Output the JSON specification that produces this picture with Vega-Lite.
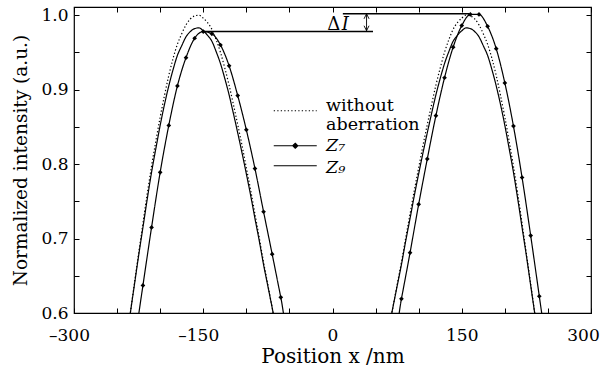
{
  "$schema": "https://vega.github.io/schema/vega-lite/v6.json",
  "width": 517,
  "height": 306,
  "autosize": {"type": "none"},
  "padding": {"left": 74, "top": 7, "right": 15, "bottom": 60},
  "background": "white",
  "config": {
    "view": {"stroke": "black", "strokeWidth": 1.2},
    "font": "'DejaVu Serif', 'Liberation Serif', serif",
    "axis": {"grid": false, "domain": false, "tickColor": "black", "tickWidth": 1, "labelColor": "black", "titleColor": "black", "labelFont": "'DejaVu Serif', 'Liberation Serif', serif", "titleFont": "'DejaVu Serif', 'Liberation Serif', serif", "labelFontSize": 17, "titleFontSize": 19, "titleFontWeight": "normal"}
  },
  "datasets": {
    "curves": [
      {"series": "without aberration", "x": -240, "y": 0.554},
      {"series": "without aberration", "x": -235, "y": 0.597},
      {"series": "without aberration", "x": -230, "y": 0.639},
      {"series": "without aberration", "x": -225, "y": 0.680},
      {"series": "without aberration", "x": -220, "y": 0.720},
      {"series": "without aberration", "x": -215, "y": 0.760},
      {"series": "without aberration", "x": -210, "y": 0.797},
      {"series": "without aberration", "x": -205, "y": 0.831},
      {"series": "without aberration", "x": -200, "y": 0.863},
      {"series": "without aberration", "x": -195, "y": 0.892},
      {"series": "without aberration", "x": -190, "y": 0.919},
      {"series": "without aberration", "x": -185, "y": 0.942},
      {"series": "without aberration", "x": -180, "y": 0.961},
      {"series": "without aberration", "x": -175, "y": 0.975},
      {"series": "without aberration", "x": -170, "y": 0.987},
      {"series": "without aberration", "x": -165, "y": 0.995},
      {"series": "without aberration", "x": -160, "y": 0.999},
      {"series": "without aberration", "x": -155, "y": 1.000},
      {"series": "without aberration", "x": -150, "y": 0.996},
      {"series": "without aberration", "x": -145, "y": 0.990},
      {"series": "without aberration", "x": -140, "y": 0.981},
      {"series": "without aberration", "x": -135, "y": 0.967},
      {"series": "without aberration", "x": -130, "y": 0.950},
      {"series": "without aberration", "x": -125, "y": 0.929},
      {"series": "without aberration", "x": -120, "y": 0.906},
      {"series": "without aberration", "x": -115, "y": 0.880},
      {"series": "without aberration", "x": -110, "y": 0.853},
      {"series": "without aberration", "x": -105, "y": 0.825},
      {"series": "without aberration", "x": -100, "y": 0.795},
      {"series": "without aberration", "x": -95, "y": 0.765},
      {"series": "without aberration", "x": -90, "y": 0.733},
      {"series": "without aberration", "x": -85, "y": 0.701},
      {"series": "without aberration", "x": -80, "y": 0.668},
      {"series": "without aberration", "x": -75, "y": 0.638},
      {"series": "without aberration", "x": -70, "y": 0.607},
      {"series": "without aberration", "x": -65, "y": 0.576},
      {"series": "without aberration", "x": -60, "y": 0.545},
      {"series": "without aberration", "x": 60, "y": 0.545},
      {"series": "without aberration", "x": 65, "y": 0.576},
      {"series": "without aberration", "x": 70, "y": 0.607},
      {"series": "without aberration", "x": 75, "y": 0.638},
      {"series": "without aberration", "x": 80, "y": 0.668},
      {"series": "without aberration", "x": 85, "y": 0.701},
      {"series": "without aberration", "x": 90, "y": 0.733},
      {"series": "without aberration", "x": 95, "y": 0.765},
      {"series": "without aberration", "x": 100, "y": 0.795},
      {"series": "without aberration", "x": 105, "y": 0.825},
      {"series": "without aberration", "x": 110, "y": 0.853},
      {"series": "without aberration", "x": 115, "y": 0.880},
      {"series": "without aberration", "x": 120, "y": 0.906},
      {"series": "without aberration", "x": 125, "y": 0.929},
      {"series": "without aberration", "x": 130, "y": 0.950},
      {"series": "without aberration", "x": 135, "y": 0.967},
      {"series": "without aberration", "x": 140, "y": 0.981},
      {"series": "without aberration", "x": 145, "y": 0.990},
      {"series": "without aberration", "x": 150, "y": 0.996},
      {"series": "without aberration", "x": 155, "y": 1.000},
      {"series": "without aberration", "x": 160, "y": 0.999},
      {"series": "without aberration", "x": 165, "y": 0.995},
      {"series": "without aberration", "x": 170, "y": 0.987},
      {"series": "without aberration", "x": 175, "y": 0.975},
      {"series": "without aberration", "x": 180, "y": 0.961},
      {"series": "without aberration", "x": 185, "y": 0.942},
      {"series": "without aberration", "x": 190, "y": 0.919},
      {"series": "without aberration", "x": 195, "y": 0.892},
      {"series": "without aberration", "x": 200, "y": 0.863},
      {"series": "without aberration", "x": 205, "y": 0.831},
      {"series": "without aberration", "x": 210, "y": 0.797},
      {"series": "without aberration", "x": 215, "y": 0.760},
      {"series": "without aberration", "x": 220, "y": 0.720},
      {"series": "without aberration", "x": 225, "y": 0.680},
      {"series": "without aberration", "x": 230, "y": 0.639},
      {"series": "without aberration", "x": 235, "y": 0.597},
      {"series": "without aberration", "x": 240, "y": 0.554},
      {"series": "Z9", "x": -240, "y": 0.556},
      {"series": "Z9", "x": -235, "y": 0.597},
      {"series": "Z9", "x": -230, "y": 0.637},
      {"series": "Z9", "x": -225, "y": 0.677},
      {"series": "Z9", "x": -220, "y": 0.715},
      {"series": "Z9", "x": -215, "y": 0.753},
      {"series": "Z9", "x": -210, "y": 0.789},
      {"series": "Z9", "x": -205, "y": 0.821},
      {"series": "Z9", "x": -200, "y": 0.852},
      {"series": "Z9", "x": -195, "y": 0.880},
      {"series": "Z9", "x": -190, "y": 0.905},
      {"series": "Z9", "x": -185, "y": 0.927},
      {"series": "Z9", "x": -180, "y": 0.946},
      {"series": "Z9", "x": -175, "y": 0.959},
      {"series": "Z9", "x": -170, "y": 0.971},
      {"series": "Z9", "x": -165, "y": 0.978},
      {"series": "Z9", "x": -160, "y": 0.982},
      {"series": "Z9", "x": -155, "y": 0.983},
      {"series": "Z9", "x": -150, "y": 0.979},
      {"series": "Z9", "x": -145, "y": 0.973},
      {"series": "Z9", "x": -140, "y": 0.965},
      {"series": "Z9", "x": -135, "y": 0.951},
      {"series": "Z9", "x": -130, "y": 0.935},
      {"series": "Z9", "x": -125, "y": 0.915},
      {"series": "Z9", "x": -120, "y": 0.893},
      {"series": "Z9", "x": -115, "y": 0.868},
      {"series": "Z9", "x": -110, "y": 0.842},
      {"series": "Z9", "x": -105, "y": 0.815},
      {"series": "Z9", "x": -100, "y": 0.787},
      {"series": "Z9", "x": -95, "y": 0.758},
      {"series": "Z9", "x": -90, "y": 0.727},
      {"series": "Z9", "x": -85, "y": 0.697},
      {"series": "Z9", "x": -80, "y": 0.665},
      {"series": "Z9", "x": -75, "y": 0.636},
      {"series": "Z9", "x": -70, "y": 0.607},
      {"series": "Z9", "x": -65, "y": 0.577},
      {"series": "Z9", "x": -60, "y": 0.547},
      {"series": "Z9", "x": 60, "y": 0.547},
      {"series": "Z9", "x": 65, "y": 0.577},
      {"series": "Z9", "x": 70, "y": 0.607},
      {"series": "Z9", "x": 75, "y": 0.636},
      {"series": "Z9", "x": 80, "y": 0.665},
      {"series": "Z9", "x": 85, "y": 0.697},
      {"series": "Z9", "x": 90, "y": 0.727},
      {"series": "Z9", "x": 95, "y": 0.758},
      {"series": "Z9", "x": 100, "y": 0.787},
      {"series": "Z9", "x": 105, "y": 0.815},
      {"series": "Z9", "x": 110, "y": 0.842},
      {"series": "Z9", "x": 115, "y": 0.868},
      {"series": "Z9", "x": 120, "y": 0.893},
      {"series": "Z9", "x": 125, "y": 0.915},
      {"series": "Z9", "x": 130, "y": 0.935},
      {"series": "Z9", "x": 135, "y": 0.951},
      {"series": "Z9", "x": 140, "y": 0.965},
      {"series": "Z9", "x": 145, "y": 0.973},
      {"series": "Z9", "x": 150, "y": 0.979},
      {"series": "Z9", "x": 155, "y": 0.983},
      {"series": "Z9", "x": 160, "y": 0.982},
      {"series": "Z9", "x": 165, "y": 0.978},
      {"series": "Z9", "x": 170, "y": 0.971},
      {"series": "Z9", "x": 175, "y": 0.959},
      {"series": "Z9", "x": 180, "y": 0.946},
      {"series": "Z9", "x": 185, "y": 0.927},
      {"series": "Z9", "x": 190, "y": 0.905},
      {"series": "Z9", "x": 195, "y": 0.880},
      {"series": "Z9", "x": 200, "y": 0.852},
      {"series": "Z9", "x": 205, "y": 0.821},
      {"series": "Z9", "x": 210, "y": 0.789},
      {"series": "Z9", "x": 215, "y": 0.753},
      {"series": "Z9", "x": 220, "y": 0.715},
      {"series": "Z9", "x": 225, "y": 0.677},
      {"series": "Z9", "x": 230, "y": 0.637},
      {"series": "Z9", "x": 235, "y": 0.597},
      {"series": "Z9", "x": 240, "y": 0.556},
      {"series": "Z7", "x": -230, "y": 0.558},
      {"series": "Z7", "x": -220, "y": 0.637},
      {"series": "Z7", "x": -210, "y": 0.715},
      {"series": "Z7", "x": -200, "y": 0.789},
      {"series": "Z7", "x": -190, "y": 0.852},
      {"series": "Z7", "x": -180, "y": 0.905},
      {"series": "Z7", "x": -170, "y": 0.943},
      {"series": "Z7", "x": -160, "y": 0.969},
      {"series": "Z7", "x": -150, "y": 0.978},
      {"series": "Z7", "x": -140, "y": 0.975},
      {"series": "Z7", "x": -130, "y": 0.960},
      {"series": "Z7", "x": -120, "y": 0.932},
      {"series": "Z7", "x": -110, "y": 0.892},
      {"series": "Z7", "x": -100, "y": 0.846},
      {"series": "Z7", "x": -90, "y": 0.794},
      {"series": "Z7", "x": -80, "y": 0.736},
      {"series": "Z7", "x": -70, "y": 0.679},
      {"series": "Z7", "x": -60, "y": 0.621},
      {"series": "Z7", "x": -50, "y": 0.563},
      {"series": "Z7", "x": 70, "y": 0.557},
      {"series": "Z7", "x": 80, "y": 0.619},
      {"series": "Z7", "x": 90, "y": 0.681},
      {"series": "Z7", "x": 100, "y": 0.746},
      {"series": "Z7", "x": 110, "y": 0.807},
      {"series": "Z7", "x": 120, "y": 0.865},
      {"series": "Z7", "x": 130, "y": 0.916},
      {"series": "Z7", "x": 140, "y": 0.957},
      {"series": "Z7", "x": 150, "y": 0.986},
      {"series": "Z7", "x": 160, "y": 1.001},
      {"series": "Z7", "x": 170, "y": 1.001},
      {"series": "Z7", "x": 180, "y": 0.985},
      {"series": "Z7", "x": 190, "y": 0.955},
      {"series": "Z7", "x": 200, "y": 0.909},
      {"series": "Z7", "x": 210, "y": 0.851},
      {"series": "Z7", "x": 220, "y": 0.782},
      {"series": "Z7", "x": 230, "y": 0.704},
      {"series": "Z7", "x": 240, "y": 0.6225},
      {"series": "Z7", "x": 250, "y": 0.541}
    ]
  },
  "layer": [
    {
      "data": {"name": "curves"},
      "mark": {"type": "line", "color": "black", "strokeWidth": 1.2, "clip": true, "interpolate": "monotone"},
      "encoding": {
        "x": {
          "field": "x", "type": "quantitative",
          "scale": {"domain": [-300, 300], "nice": false, "zero": false},
          "axis": {
            "orient": "bottom",
            "values": [-300, -250, -200, -150, -100, -50, 0, 50, 100, 150, 200, 250, 300],
            "tickSize": -5, "labelPadding": 19, "labelFlush": false, "labelOverlap": false,
            "labelExpr": "round(datum.value) % 150 === 0 ? (datum.value < 0 ? '–' + abs(datum.value) : '' + datum.value) : ''",
            "labelOffset": {"condition": [{"test": "datum.value < 0", "value": -5}, {"test": "datum.value > 250", "value": -8}], "value": 0},
            "title": "Position x /nm", "titlePadding": 3, "titleFontSize": 20
          }
        },
        "y": {
          "field": "y", "type": "quantitative",
          "scale": {"domain": [0.6, 1.011], "nice": false, "zero": false},
          "axis": {
            "orient": "left",
            "values": [0.6, 0.65, 0.7, 0.75, 0.8, 0.85, 0.9, 0.95, 1.0],
            "tickSize": -5, "labelPadding": 11, "labelFlush": false, "labelOverlap": false,
            "labelExpr": "round(datum.value * 100) % 10 === 0 ? format(datum.value, '.1f') : ''",
            "title": "Normalized intensity (a.u.)", "titlePadding": 10, "titleFontSize": 18.5
          }
        },
        "strokeDash": {
          "field": "series", "type": "nominal",
          "scale": {"domain": ["without aberration", "Z7", "Z9"], "range": [[1.3, 2.2], [1, 0], [1, 0]]},
          "legend": {
            "orient": "none", "legendX": 212.5, "legendY": 95, "padding": 0,
            "title": null,
            "symbolType": "M-4.3,0H4.3",
            "symbolSize": 100,
            "symbolStrokeWidth": 1.2,
            "symbolStrokeColor": "black",
            "symbolFillColor": "black",
            "labelFont": "'DejaVu Serif', 'Liberation Serif', serif", "labelFontSize": 17.5, "labelColor": "black",
            "labelOffset": 22,
            "labelExpr": "datum.value === 'without aberration' ? ['without', 'aberration'] : (datum.value === 'Z7' ? 'Z₇' : 'Z₉')",
            "encode": {
              "symbols": {"update": {"shape": {"signal": "datum.value === 'Z7' ? 'M-4.3,0H4.3M0,-0.5L0.5,0L0,0.5L-0.5,0Z' : 'M-4.3,0H4.3'"}, "fill": {"value": "black"}, "stroke": {"value": "black"}}},
              "labels": {"update": {"fontStyle": {"signal": "datum.value === 'without aberration' ? 'normal' : 'italic'"}, "lineHeight": {"value": 19}, "dy": {"signal": "datum.value === 'without aberration' ? -5 : (datum.value === 'Z9' ? 2 : 0)"}}}
            }
          }
        }
      }
    },
    {
      "data": {"name": "curves"},
      "transform": [{"filter": "datum.series === 'Z7'"}],
      "mark": {"type": "point", "shape": "diamond", "size": 22, "filled": true, "color": "black", "opacity": 1, "clip": true},
      "encoding": {
        "x": {"field": "x", "type": "quantitative", "axis": null},
        "y": {"field": "y", "type": "quantitative", "axis": null}
      }
    },
    {
      "data": {"values": [{"x": -151, "x2": 47, "y": 0.978}, {"x": 12, "x2": 159, "y": 1.002}]},
      "mark": {"type": "rule", "color": "black", "strokeWidth": 1.4},
      "encoding": {
        "x": {
          "field": "x", "type": "quantitative",
          "axis": {"orient": "top", "values": [-300, -250, -200, -150, -100, -50, 0, 50, 100, 150, 200, 250, 300], "tickSize": -5, "labels": false, "title": null}
        },
        "x2": {"field": "x2"},
        "y": {
          "field": "y", "type": "quantitative",
          "axis": {"orient": "right", "values": [0.6, 0.65, 0.7, 0.75, 0.8, 0.85, 0.9, 0.95, 1.0], "tickSize": -5, "labels": false, "title": null}
        }
      }
    },
    {
      "data": {"values": [{"x": 39.5, "y": 0.979, "y2": 1.002}]},
      "mark": {"type": "rule", "color": "black", "strokeWidth": 0.9},
      "encoding": {
        "x": {"field": "x", "type": "quantitative", "axis": null},
        "y": {"field": "y", "type": "quantitative", "axis": null},
        "y2": {"field": "y2"}
      }
    },
    {
      "data": {"values": [{"x": 39.5, "y": 0.9985}]},
      "mark": {"type": "point", "shape": "M-1,1L0,-1L1,1", "size": 25, "filled": false, "color": "black", "strokeWidth": 0.9, "opacity": 1},
      "encoding": {
        "x": {"field": "x", "type": "quantitative", "axis": null},
        "y": {"field": "y", "type": "quantitative", "axis": null}
      }
    },
    {
      "data": {"values": [{"x": 39.5, "y": 0.9825}]},
      "mark": {"type": "point", "shape": "M-1,-1L0,1L1,-1", "size": 25, "filled": false, "color": "black", "strokeWidth": 0.9, "opacity": 1},
      "encoding": {
        "x": {"field": "x", "type": "quantitative", "axis": null},
        "y": {"field": "y", "type": "quantitative", "axis": null}
      }
    },
    {
      "data": {"values": [{"x": 1.5, "y": 0.9805, "t": "Δ"}]},
      "mark": {"type": "text", "font": "'DejaVu Serif', 'Liberation Serif', serif", "fontSize": 18, "baseline": "alphabetic", "align": "center", "color": "black"},
      "encoding": {
        "x": {"field": "x", "type": "quantitative", "axis": null},
        "y": {"field": "y", "type": "quantitative", "axis": null},
        "text": {"field": "t"}
      }
    },
    {
      "data": {"values": [{"x": 15, "y": 0.9805, "t": "I"}]},
      "mark": {"type": "text", "font": "'DejaVu Serif', 'Liberation Serif', serif", "fontSize": 18, "fontStyle": "italic", "baseline": "alphabetic", "align": "center", "color": "black"},
      "encoding": {
        "x": {"field": "x", "type": "quantitative", "axis": null},
        "y": {"field": "y", "type": "quantitative", "axis": null},
        "text": {"field": "t"}
      }
    }
  ],
  "resolve": {"axis": {"x": "independent", "y": "independent"}}
}
